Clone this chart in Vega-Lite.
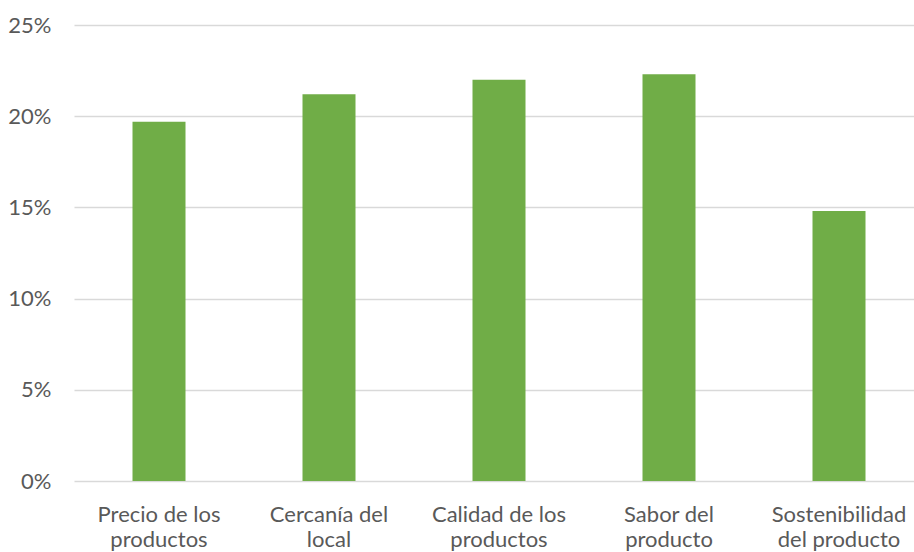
{
  "$schema": "https://vega.github.io/schema/vega-lite/v6.json",
  "autosize": "none",
  "width": 850,
  "height": 456,
  "padding": {"top": 25, "left": 74, "right": 0, "bottom": 71},
  "background": "white",
  "config": {
    "view": {"stroke": null},
    "font": "Lato",
    "axis": {
      "labelFont": "Lato",
      "labelFontSize": 22,
      "labelColor": "#595959",
      "domain": false,
      "ticks": false,
      "title": null
    }
  },
  "data": {
    "values": [
      {"factor": "Precio de los\nproductos", "share": 0.197},
      {"factor": "Cercanía del\nlocal", "share": 0.212},
      {"factor": "Calidad de los\nproductos", "share": 0.220},
      {"factor": "Sabor del\nproducto", "share": 0.223},
      {"factor": "Sostenibilidad\ndel producto", "share": 0.148}
    ]
  },
  "mark": {"type": "bar", "color": "#70ad47", "width": 53},
  "encoding": {
    "x": {
      "field": "factor",
      "type": "nominal",
      "sort": null,
      "scale": {"paddingInner": 0, "paddingOuter": 0},
      "axis": {
        "labelAngle": 0,
        "labelPadding": 23,
        "labelBaseline": "top",
        "labelLineHeight": 25,
        "labelExpr": "split(datum.label, '\\n')",
        "grid": false
      }
    },
    "y": {
      "field": "share",
      "type": "quantitative",
      "scale": {"domain": [0, 0.25], "nice": false},
      "axis": {
        "format": ".0%",
        "values": [0, 0.05, 0.1, 0.15, 0.2, 0.25],
        "labelPadding": 23,
        "grid": true,
        "gridColor": "#d9d9d9",
        "gridWidth": 1.5
      }
    }
  }
}
